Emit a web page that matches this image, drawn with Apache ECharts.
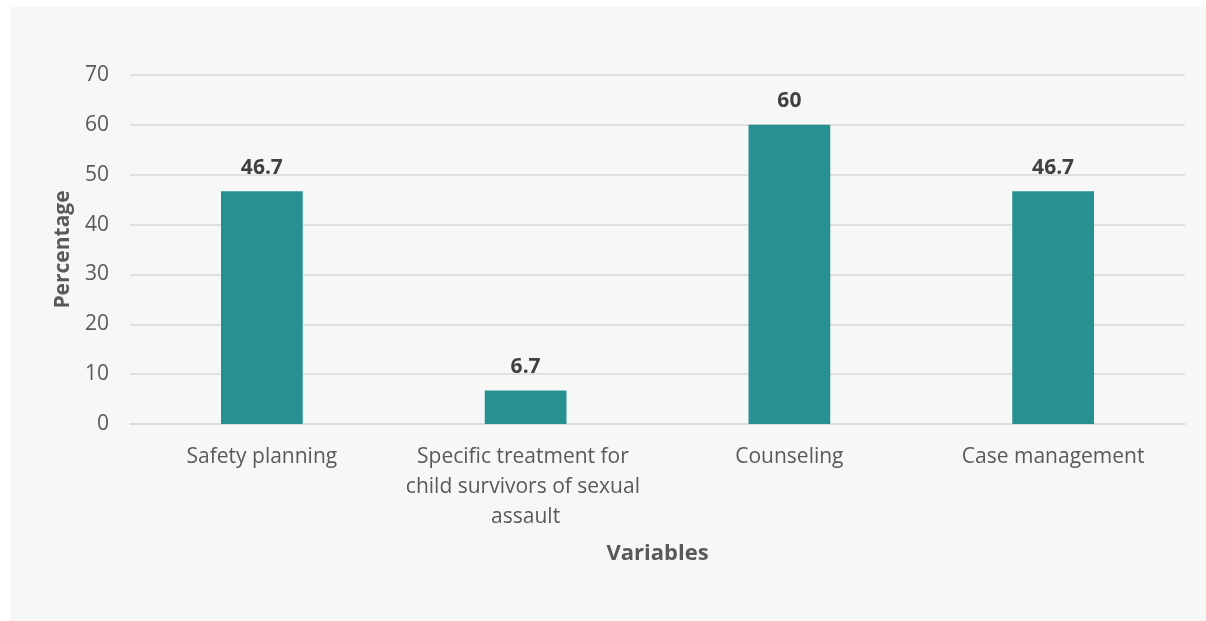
<!DOCTYPE html>
<html><head><meta charset="utf-8">
<script src="https://cdn.jsdelivr.net/npm/echarts@6/dist/echarts.min.js"></script>
<style>
html,body{margin:0;padding:0;background:#fff;width:1206px;height:621px;overflow:hidden;}
#c{position:absolute;left:11px;top:7px;width:1195px;height:614px;background:#f6f8f8;}
</style></head>
<body><div id="c"></div>
<script>
const categories = ["Safety planning", "Specific treatment for child survivors of sexual assault", "Counseling", "Case management"];
const values = [46.7, 6.7, 60, 46.7];
const yTicks = {min: 0, max: 70, interval: 10};
const xTitle = "Variables";
const yTitle = "Percentage";

const chart = echarts.init(document.getElementById('c'));
const font = "'Open Sans', sans-serif";
chart.setOption({
  animation: false,
  grid: {left: 119, right: 21, top: 68, bottom: 197},
  xAxis: {
    type: 'category', data: categories,
    name: xTitle, nameLocation: 'middle', nameGap: 119,
    nameTextStyle: {fontFamily: font, fontWeight: 'bold', fontSize: 22, color: '#595959'},
    axisLine: {lineStyle: {color: '#d9d9d9', width: 1.5}},
    axisTick: {show: false},
    axisLabel: {fontFamily: font, fontSize: 21, color: '#595959', margin: 18, lineHeight: 30,
      width: 245, overflow: 'break', interval: 0}
  },
  yAxis: {
    type: 'value', min: yTicks.min, max: yTicks.max, interval: yTicks.interval,
    name: yTitle, nameLocation: 'middle', nameGap: 56, nameRotate: 90,
    nameTextStyle: {fontFamily: font, fontWeight: 'bold', fontSize: 21, color: '#595959'},
    axisLine: {show: false}, axisTick: {show: false},
    splitLine: {lineStyle: {color: '#d9d9d9', width: 1.5}},
    axisLabel: {fontFamily: font, fontSize: 21, color: '#595959', margin: 21}
  },
  series: [{
    type: 'bar', data: values, barWidth: '31%',
    itemStyle: {color: '#279192'},
    label: {show: true, position: 'top', distance: 13, fontFamily: font, fontWeight: 'bold', fontSize: 21, color: '#404040'}
  }]
});
</script></body></html>
